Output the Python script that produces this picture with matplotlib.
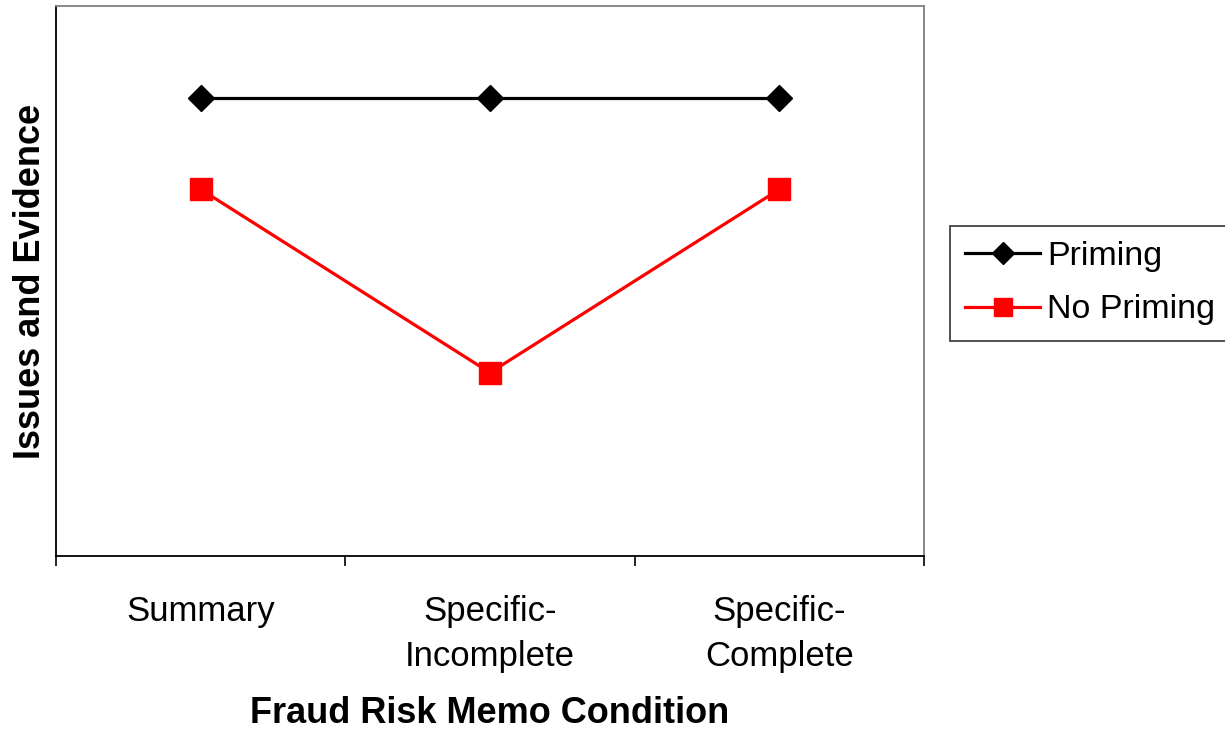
import matplotlib
matplotlib.use('Agg')
import matplotlib.pyplot as plt

plt.rcParams['font.family'] = ['Liberation Sans', 'DejaVu Sans']

######################################################################
# data

conditions = ['Summary', 'Specific-\nIncomplete', 'Specific-\nComplete']
priming = [5.0, 5.0, 5.0]
no_priming = [4.0, 2.0, 4.0]

######################################################################

fig = plt.figure(figsize=(12.25, 7.31), dpi=100)
ax = fig.add_axes([56/1225, 1 - 556/731, 868/1225, 550/731])

x = [1, 2, 3]

ax.plot(x, priming, color='black', lw=2.3, marker='D', ms=13.5,
        mec='black', mfc='black', label='Priming', zorder=3)
ax.plot(x, no_priming, color='red', lw=2.3, marker='s', ms=16.5,
        mec='red', mfc='red', label='No Priming', zorder=2)

ax.set_xlim(0.5, 3.5)
ax.set_ylim(0, 6)

# category boundaries get the tick marks, labels sit in between
ax.set_xticks([0.5, 1.5, 2.5, 3.5])
ax.set_xticklabels([])
ax.set_xticks(x, minor=True)
ax.set_xticklabels(conditions, minor=True, fontsize=25)
ax.tick_params(axis='x', which='major', direction='out', length=7.5,
               width=1.2, color='black')
ax.tick_params(axis='x', which='minor', length=0, pad=28)
for t in ax.get_xticklabels(minor=True):
    t.set_linespacing(1.45)
ax.set_yticks([])

for side in ['left', 'bottom']:
    ax.spines[side].set_color('black')
    ax.spines[side].set_linewidth(1.3)
for side in ['top', 'right']:
    ax.spines[side].set_color('#808080')
    ax.spines[side].set_linewidth(1.3)

ax.set_xlabel('Fraud Risk Memo Condition', fontsize=26,
              fontweight='bold', labelpad=17)
ax.set_ylabel('Issues and Evidence', fontsize=26,
              fontweight='bold', labelpad=6)

leg = fig.legend(loc='upper left', bbox_to_anchor=(950/1225, 1 - 226/731),
                 fontsize=24.5, frameon=True, fancybox=False,
                 edgecolor='black', borderaxespad=0, handlelength=2.2,
                 markerscale=0.8, borderpad=0.45, labelspacing=0.65,
                 handletextpad=0.2)
leg.get_frame().set_linewidth(1.2)

fig.savefig('out.png', dpi=100)
